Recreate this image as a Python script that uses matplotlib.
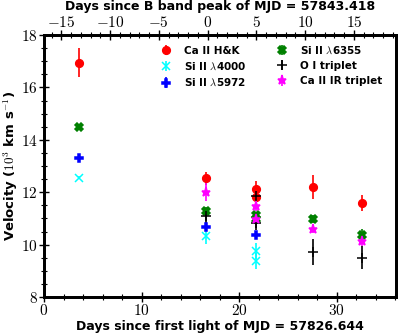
import matplotlib
matplotlib.use("Agg")
import matplotlib.pyplot as plt
from matplotlib.ticker import MultipleLocator, FuncFormatter

plt.rcParams['mathtext.fontset'] = 'cm'
plt.rcParams['font.family'] = ['DejaVu Sans']

t_peak_offset = 57843.418 - 57826.644

# Ca II H&K
cahk_t = [3.6, 16.65, 21.75, 21.75, 27.6, 32.6]
cahk_v = [16.95, 12.53, 12.13, 11.83, 12.19, 11.58]
cahk_e = [0.55, 0.25, 0.3, 0.3, 0.45, 0.3]
# Si II 4000
si4000_t = [3.6, 16.65, 21.75, 21.75]
si4000_v = [12.55, 10.33, 9.75, 9.38]
si4000_e = [0.05, 0.3, 0.3, 0.3]
# Si II 5972
si5972_t = [3.6, 16.65, 21.75]
si5972_v = [13.32, 10.68, 10.37]
si5972_e = [0.1, 0.15, 0.15]
# Si II 6355
si6355_t = [3.6, 16.65, 21.75, 21.75, 27.6, 32.6]
si6355_v = [14.48, 11.28, 11.14, 10.99, 10.97, 10.38]
si6355_e = [0.1, 0.15, 0.1, 0.1, 0.15, 0.2]
# O I triplet
oi_t = [16.65, 21.75, 21.75, 27.6, 32.6]
oi_v = [11.1, 11.85, 10.84, 9.72, 9.5]
oi_e = [0.3, 0.2, 0.3, 0.5, 0.45]
# Ca II IR triplet
cair_t = [16.65, 21.75, 21.75, 27.6, 32.6]
cair_v = [12.02, 11.47, 10.98, 10.58, 10.14]
cair_e = [0.35, 0.2, 0.2, 0.15, 0.2]

fig = plt.figure(figsize=(3.98, 3.34), dpi=100)
ax = fig.add_axes([44/398, 1-297/334, 352/398, 262/334])

series = [
    (cahk_t, cahk_v, cahk_e, 'red', 'o', 'Ca II H&K', 5.5),
    (si4000_t, si4000_v, si4000_e, 'cyan', 'x', r'Si II $\lambda$4000', 5.5),
    (si5972_t, si5972_v, si5972_e, 'blue', 'P', r'Si II $\lambda$5972', 5.5),
    (si6355_t, si6355_v, si6355_e, 'green', 'X', r'Si II $\lambda$6355', 6),
    (oi_t, oi_v, oi_e, 'black', '+', 'O I triplet', 7),
    (cair_t, cair_v, cair_e, 'magenta', '*', 'Ca II IR triplet', 6.5),
]
for t, v, e, c, m, lab, ms in series:
    ax.errorbar(t, v, yerr=e, fmt=m, color=c, ms=ms, elinewidth=1.2,
                ecolor=c, label=lab, capsize=0, mew=1.1)

ax.set_xlim(0, 36.1)
ax.set_ylim(8, 18)
ax.xaxis.set_major_locator(MultipleLocator(10))
ax.xaxis.set_minor_locator(MultipleLocator(2))
ax.yaxis.set_major_locator(MultipleLocator(2))
ax.yaxis.set_minor_locator(MultipleLocator(0.5))
mfmt = FuncFormatter(lambda x, p: r'$%d$' % round(x) if x >= 0 else r'$-%d$' % round(-x))
ax.xaxis.set_major_formatter(mfmt)
ax.yaxis.set_major_formatter(mfmt)
ax.tick_params(which='both', direction='inout', top=False, right=False, labelsize=11, pad=1)
ax.tick_params(which='major', length=7, width=1)
ax.tick_params(which='minor', length=4, width=0.8)
for s in ax.spines.values():
    s.set_linewidth(2)

ax.set_xlabel('Days since first light of MJD = 57826.644', fontsize=9, fontweight='bold', labelpad=1)
ax.set_ylabel(r'Velocity ($10^3$ km s$^{-1}$)', fontsize=9.5, fontweight='bold')
ax.yaxis.set_label_coords(-24/352, 0.5)

ax2 = ax.twiny()
ax2.set_xlim(0 - t_peak_offset, 36.1 - t_peak_offset)
ax2.xaxis.set_major_locator(MultipleLocator(5))
ax2.xaxis.set_minor_locator(MultipleLocator(1))
ax2.xaxis.set_major_formatter(mfmt)
ax2.tick_params(which='both', direction='inout', labelsize=11, pad=0)
ax2.tick_params(which='major', length=7, width=1)
ax2.tick_params(which='minor', length=4, width=0.8)
for s in ax2.spines.values():
    s.set_linewidth(2)
fig.text(220/398, 1 - 6.5/334, 'Days since B band peak of MJD = 57843.418',
         fontsize=9, fontweight='bold', ha='center', va='center')

leg = ax.legend(ncol=2, loc='upper right', frameon=False,
                prop={'weight': 'bold', 'size': 7.5}, handletextpad=1.0,
                columnspacing=2.6, borderaxespad=0.5, labelspacing=0.5,
                handlelength=1.5, bbox_to_anchor=(0.987, 1.0))

fig.savefig('out.png', dpi=100)
